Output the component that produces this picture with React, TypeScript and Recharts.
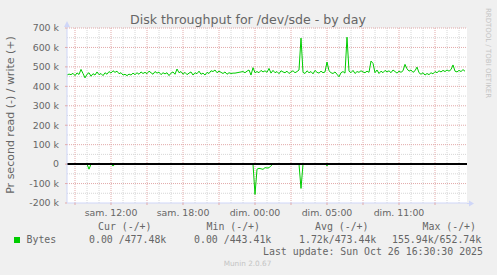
import { LineChart, Line, XAxis, YAxis, ReferenceLine, CartesianGrid } from "recharts";

// Disk throughput for /dev/sde (munin, by day) — samples every 10 min, values in kB/s
const writeK = [
  458, 463, 460, 467, 455, 469, 461, 487, 466, 443.41,
  462, 470, 452, 465, 458, 474, 460, 466, 455, 470,
  462, 476, 468, 480, 472, 478, 465, 470, 458, 462,
  455, 463, 458, 468, 460, 470, 462, 474, 466, 472,
  465, 478, 470, 462, 476, 468, 473, 460, 470, 464,
  470, 455, 468, 474, 462, 489, 470, 476, 462, 472,
  460, 468, 474, 458, 470, 465, 478, 462, 468, 458,
  472, 466, 480, 476, 484, 470, 478, 472, 466, 474,
  462, 470, 466, 468, 468, 470, 472, 474, 476, 470,
  478, 484, 458, 496, 470, 476, 470, 482, 474, 480,
  472, 492, 468, 482, 470, 476, 465, 480, 474, 470,
  478, 466, 474, 480, 470, 476, 484, 648, 472, 466,
  480, 470, 476, 464, 482, 472, 468, 478, 470, 474,
  525, 480, 470, 466, 474, 462, 449, 470, 476, 468,
  652.74, 478, 470, 482, 466, 476, 472, 480, 474, 470,
  478, 472, 530, 518, 470, 484, 466, 478, 470, 482,
  474, 480, 470, 484, 476, 468, 478, 472, 480, 513,
  490, 478, 484, 472, 480, 499, 470, 462, 470, 458,
  466, 460, 470, 464, 476, 470, 480, 474, 482, 476,
  484, 478, 486, 510, 478, 474, 482, 476, 486, 477.48,
];

const readK = [
  0, 0, 0, 0, 0, 0, 0, 0, 0, 0, 0, 26, 0, 0, 0, 0, 0, 0, 0, 0,
  0, 0, 0, 10, 0, 0, 0, 0, 0, 0, 0, 0, 0, 0, 0, 0, 0, 0, 0, 0,
  0, 0, 0, 0, 0, 0, 0, 0, 0, 0, 0, 0, 0, 0, 0, 0, 0, 0, 0, 0,
  0, 0, 0, 0, 0, 0, 0, 0, 0, 0, 0, 0, 0, 0, 0, 0, 0, 0, 0, 0,
  0, 0, 0, 0, 0, 0, 0, 0, 0, 0, 0, 0, 0, 0, 155.94, 26, 22, 24, 27, 18,
  20, 19, 8, 0, 0, 0, 0, 0, 0, 0, 0, 0, 0, 0, 0, 0, 0, 125, 0, 0,
  0, 0, 0, 0, 0, 0, 0, 0, 0, 0, 8, 0, 0, 0, 0, 0, 0, 0, 0, 0,
  0, 0, 0, 0, 0, 0, 0, 0, 0, 0, 0, 0, 0, 0, 0, 0, 0, 0, 0, 0,
  0, 0, 0, 0, 0, 0, 0, 0, 0, 0, 0, 0, 0, 0, 0, 0, 0, 0, 0, 0,
  0, 0, 0, 0, 0, 0, 0, 0, 0, 0, 0, 0, 0, 0, 0, 0, 0, 0, 0, 0,
];

// x is counted in 5-minute steps from the left edge of the graph
const xLabelTicks = [44, 116, 188, 260, 332];
const xLabels = ["sam. 12:00", "sam. 18:00", "dim. 00:00", "dim. 05:00", "dim. 11:00"];
const yTicks = [-200000, -100000, 0, 100000, 200000, 300000, 400000, 500000, 600000, 700000];
const statHeads = ["Cur (-/+)", "Min (-/+)", "Avg (-/+)", "Max (-/+)"];
const statValues = ["0.00 /477.48k", "0.00 /443.41k", "1.72k/473.44k", "155.94k/652.74k"];

const data = writeK.map((w, i) => ({ t: i * 2, write: w * 1000, read: -readK[i] * 1000 }));

const hourLines = Array.from({ length: 33 }, (_, k) => 8 + k * 12);
const majorX = hourLines.filter((v) => (v - 8) % 36 === 0);
const minorX = hourLines.filter((v) => (v - 8) % 36 !== 0);
const minorY = yTicks.slice(0, -1).map((v) => v + 50000);

const AXIS = "#CFD6F8";
const MGRID = "#e2a9a9";
const GRID = "#d6d6d6";
const FONT = "#666666";

export default function App() {
  const label = (v: number) => {
    const i = xLabelTicks.indexOf(v);
    return i >= 0 ? xLabels[i] : "";
  };
  return (
    <div style={{ position: "fixed", left: 0, top: 0, width: 497, height: 275, background: "#f0f0f0" }}>
      <LineChart
        width={497}
        height={275}
        data={data}
        margin={{ top: 28, right: 30, bottom: 52, left: 7 }}
        style={{ fontFamily: "DejaVu Sans" }}
      >
        <CartesianGrid fill="#ffffff" horizontal={false} vertical={false} />
        <XAxis
          xAxisId="minor"
          type="number"
          dataKey="t"
          domain={[0, 400]}
          ticks={minorX}
          height={0}
          axisLine={false}
          tickSize={2}
          tickLine={{ stroke: GRID }}
          tickFormatter={() => ""}
          interval={0}
        />
        <XAxis
          type="number"
          dataKey="t"
          domain={[0, 400]}
          ticks={majorX}
          height={20}
          interval={0}
          axisLine={{ stroke: AXIS }}
          tickSize={2}
          tickMargin={4}
          tickLine={{ stroke: MGRID }}
          tickFormatter={label}
          tick={{ fontSize: 9.4, fill: FONT }}
        />
        <YAxis
          type="number"
          domain={[-200000, 700000]}
          ticks={yTicks}
          width={60}
          interval={0}
          axisLine={{ stroke: AXIS }}
          tickSize={2}
          tickMargin={6}
          tickLine={{ stroke: MGRID }}
          tickFormatter={(v: number) => (v === 0 ? "0" : `${v / 1000} k`)}
          tick={{ fontSize: 9.4, fill: FONT }}
        />
        {minorX.map((v) => (
          <ReferenceLine key={"mx" + v} x={v} stroke={GRID} strokeDasharray="1 1" />
        ))}
        {minorY.map((v) => (
          <ReferenceLine key={"my" + v} y={v} stroke={GRID} strokeDasharray="1 1" />
        ))}
        {majorX.map((v) => (
          <ReferenceLine key={"Mx" + v} x={v} stroke={MGRID} strokeDasharray="1 1" />
        ))}
        {yTicks.filter((v) => v !== 0 && v !== -200000).map((v) => (
          <ReferenceLine key={"My" + v} y={v} stroke={MGRID} strokeDasharray="1 1" />
        ))}
        <Line dataKey="write" stroke="#00CC00" strokeWidth={1} dot={false} isAnimationActive={false} />
        <Line dataKey="read" stroke="#00CC00" strokeWidth={1} dot={false} isAnimationActive={false} />
        <ReferenceLine y={0} stroke="#000000" strokeWidth={2} />
      </LineChart>
      <svg
        width={497}
        height={275}
        style={{ position: "absolute", left: 0, top: 0, pointerEvents: "none", fontFamily: "DejaVu Sans" }}
      >
        <text x={248} y={24} textAnchor="middle" fontSize={12.6} fill={FONT}>
          Disk throughput for /dev/sde - by day
        </text>
        <text transform="translate(14,115) rotate(-90)" textAnchor="middle" fontSize={11} fill={FONT}>
          Pr second read (-) / write (+)
        </text>
        <text transform="translate(485.5,53) rotate(90)" textAnchor="middle" fontSize={7} fill="#c4c4c4">
          RRDTOOL / TOBI OETIKER
        </text>
        <line x1={67} y1={28} x2={67} y2={24} stroke={AXIS} />
        <polygon points="64,27 70,27 67,21" fill={AXIS} />
        <line x1={467} y1={203.5} x2={470} y2={203.5} stroke={AXIS} />
        <polygon points="469,200.5 469,206.5 474,203.5" fill={AXIS} />
        <g fontFamily="DejaVu Sans Mono" fontSize={9.9} fill={FONT}>
          {statHeads.map((h, i) => (
            <text key={h} x={[98, 206.5, 315, 422.5][i]} y={230}>
              {h}
            </text>
          ))}
          <rect x={14} y={237} width={6} height={6} fill="#00CC00" />
          <text x={26.5} y={243}>Bytes</text>
          {statValues.map((s, i) => (
            <text key={s} x={[89, 194, 299, 392][i]} y={243} style={{ whiteSpace: "pre" }}>
              {s}
            </text>
          ))}
          <text x={483} y={255} textAnchor="end">
            Last update: Sun Oct 26 16:30:30 2025
          </text>
        </g>
        <text x={247.5} y={266} textAnchor="middle" fontSize={7.3} fill="#c4c4c4">
          Munin 2.0.67
        </text>
      </svg>
    </div>
  );
}
